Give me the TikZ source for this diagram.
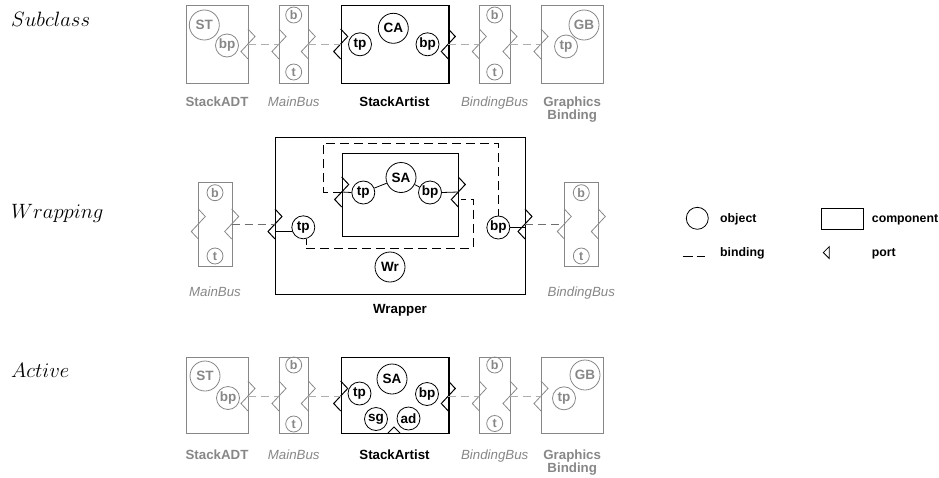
\documentclass[tikz,border=0pt]{standalone}
\usepackage{fontspec}
\setsansfont{Liberation Sans}
\usetikzlibrary{calc}
\definecolor{gr}{RGB}{135,135,135}
\definecolor{lgr}{RGB}{175,175,175}
\definecolor{mgr}{RGB}{110,110,110}
\tikzset{
  zport/.pic={\draw (0,-15) -- (7,-7.5) -- (-7,7.5) -- (0,15); \coordinate (-c) at (0,0);},
}
\begin{document}
\begin{tikzpicture}[x=1pt,y=-1pt,line join=miter,
  gbox/.style={draw=gr, line width=0.8pt, inner sep=0pt, anchor=north west},
  kbox/.style={draw=black, line width=1.3pt, inner sep=0pt, anchor=north west},
  obj/.style={circle, draw, line width=0.8pt, inner sep=0pt, font=\sffamily\bfseries\fontsize{13.5}{13.5}\selectfont},
  bigobj/.style={obj, minimum size=30pt},
  midobj/.style={obj, minimum size=23pt},
  tinyobj/.style={obj, minimum size=16pt, font=\sffamily\bfseries\fontsize{12.5}{12.5}\selectfont},
  gry/.style={draw=gr, text=gr},
  blab/.style={anchor=base, inner sep=0pt, font=\sffamily\bfseries\fontsize{13.3}{14}\selectfont},
  glab/.style={blab, text=gr},
  ilab/.style={anchor=base, inner sep=0pt, text=gr, font=\sffamily\itshape\fontsize{13.3}{14}\selectfont},
  leglab/.style={anchor=base west, inner sep=0pt, font=\sffamily\bfseries\fontsize{12.3}{13}\selectfont},
  rowlab/.style={anchor=base west, inner sep=0pt, font=\fontsize{20}{24}\selectfont},
  lbind/.style={draw=lgr, line width=1pt, dash pattern=on 8pt off 5pt},
  mbind/.style={draw=mgr, line width=0.8pt, dash pattern=on 8pt off 5pt},
  ibind/.style={draw=black, line width=1pt, dash pattern=on 9pt off 5pt},
]
\useasboundingbox (0,0) rectangle (939,477);

% ---------- row labels
\node[rowlab] (rl1) at (11,26.5) {$Subclass$};
\node[rowlab] (rl2) at (11,218.5) {$Wrapping$};
\node[rowlab] (rl3) at (11,377.5) {$Active$};

% ================= ROW 1: Subclass
\node[gbox, minimum width=62pt, minimum height=78pt] (adt1) at (186,5) {};
\node[bigobj, gry] (st1) at (204.3,25) {ST};
\node[midobj, gry] (bpa1) at (227,45.5) {bp};
\pic[gr, line width=0.8pt] (a1r) at (248,44) {zport};

\node[gbox, minimum width=29.3pt, minimum height=78pt] (mb1) at (279,5) {};
\node[tinyobj, gry] (mbb1) at (293.7,15) {b};
\node[tinyobj, gry] (mbt1) at (293.7,72) {t};
\pic[gr, line width=0.8pt] (m1l) at (279,44) {zport};
\pic[gr, line width=0.8pt] (m1r) at (308.3,44) {zport};

\node[kbox, minimum width=107.6pt, minimum height=78pt] (sa1) at (340.7,5) {};
\node[bigobj] (ca1) at (393.3,28.3) {CA};
\node[midobj] (tp1) at (360,44.3) {tp};
\node[midobj] (bp1) at (427.5,44.3) {bp};
\pic[black, line width=1pt] (s1l) at (340.7,44) {zport};
\pic[black, line width=1pt] (s1r) at (448.3,44) {zport};

\node[gbox, minimum width=30.7pt, minimum height=78pt] (bb1) at (479.3,5) {};
\node[tinyobj, gry] (bbb1) at (494.7,15) {b};
\node[tinyobj, gry] (bbt1) at (494.7,72) {t};
\pic[gr, line width=0.8pt] (b1l) at (479.3,44) {zport};
\pic[gr, line width=0.8pt] (b1r) at (510,44) {zport};

\node[gbox, minimum width=62.3pt, minimum height=78pt] (gb1) at (541,5) {};
\node[bigobj, gry] (gbo1) at (584,25) {GB};
\node[midobj, gry] (gtp1) at (566,46.5) {tp};
\pic[gr, line width=0.8pt] (g1l) at (541,44) {zport};

\draw[lbind] (a1r-c) -- (m1l-c);
\draw[lbind] (m1r-c) -- (s1l-c);
\draw[lbind] (s1r-c) -- (b1l-c);
\draw[lbind] (b1r-c) -- (g1l-c);

\node[glab] (l11) at (217,106.5) {StackADT};
\node[ilab] (l12) at (293.7,106.5) {MainBus};
\node[blab] (l13) at (394.5,106.5) {StackArtist};
\node[ilab] (l14) at (494.7,106.5) {BindingBus};
\node[glab] (l15) at (572.2,106.5) {Graphics};
\node[glab] (l16) at (572.2,119.5) {Binding};

% ================= ROW 2: Wrapping
\node[gbox, minimum width=33.4pt, minimum height=83.7pt] (mb2) at (198.3,182.3) {};
\node[tinyobj, gry] (mbb2) at (215,192.7) {b};
\node[tinyobj, gry] (mbt2) at (215,256) {t};
\pic[gr, line width=0.8pt] (m2l) at (198.3,224) {zport};
\pic[gr, line width=0.8pt] (m2r) at (231.7,224) {zport};

\node[kbox, line width=1.1pt, minimum width=250pt, minimum height=157pt] (wrp) at (275,137) {};
\node[kbox, line width=1.1pt, minimum width=116.6pt, minimum height=83.3pt] (sai) at (341.7,152.7) {};
\node[bigobj] (sao) at (401,177.5) {SA};
\node[midobj] (tpi) at (363.3,192.5) {tp};
\node[midobj] (bpi) at (430,192.5) {bp};
\node[bigobj] (wro) at (390,267) {Wr};
\node[midobj] (tpo) at (303.3,227.3) {tp};
\node[midobj] (bpo) at (498.3,227.5) {bp};
\pic[black, line width=1pt] (sil) at (341.7,192) {zport};
\pic[black, line width=1pt] (sir) at (458.3,192) {zport};
\pic[black, line width=1pt] (wl) at (275,224) {zport};
\pic[black, line width=1pt] (wr) at (525,224) {zport};

\node[gbox, minimum width=34pt, minimum height=83.7pt] (bb2) at (564.3,182.3) {};
\node[tinyobj, gry] (bbb2) at (581.3,192.7) {b};
\node[tinyobj, gry] (bbt2) at (581.3,256) {t};
\pic[gr, line width=0.8pt] (b2l) at (564.3,224) {zport};
\pic[gr, line width=0.8pt] (b2r) at (598.3,224) {zport};

\draw[mbind] (m2r-c) -- (wl-c);
\draw[mbind] (wr-c) -- (b2l-c);

\draw[line width=0.8pt] (sil-c) -- (tpi.west);
\draw[line width=0.8pt] (tpi) -- (sao);
\draw[line width=0.8pt] (sao) -- (bpi);
\draw[line width=0.8pt] (bpi.east) -- (sir-c);
\draw[line width=0.8pt] (tpo.200) -- (tpo.200 -| wl-c);
\draw[line width=0.8pt] (bpo.east) -- (bpo.east -| wr-c);
\draw[line width=0.8pt] (tpo.-75) -- (tpo.-75 |- 0,245);
\coordinate (sirb) at (461,199);
\draw[ibind] (tpo.-75 |- 0,248.3) -| (473.3,199) -- (sirb);
\draw[ibind] (sil-c) -- (323.3,192) |- (498.3,143.3) -- (bpo.north);

\node[ilab] (l21) at (215,296) {MainBus};
\node[blab] (l22) at (400,313) {Wrapper};
\node[ilab] (l23) at (581.3,296) {BindingBus};

% ================= ROW 3: Active
\node[gbox, minimum width=62pt, minimum height=76pt] (adt3) at (186,357) {};
\node[bigobj, gry] (st3) at (205,376) {ST};
\node[midobj, gry] (bpa3) at (228,398) {bp};
\pic[gr, line width=0.8pt] (a3r) at (248,396) {zport};

\node[gbox, minimum width=29.3pt, minimum height=76pt] (mb3) at (279,357) {};
\node[tinyobj, gry] (mbb3) at (293.7,365) {b};
\node[tinyobj, gry] (mbt3) at (293.7,424) {t};
\pic[gr, line width=0.8pt] (m3l) at (279,396) {zport};
\pic[gr, line width=0.8pt] (m3r) at (308.3,396) {zport};

\node[kbox, minimum width=107.6pt, minimum height=76pt] (sa3) at (340.7,357) {};
\node[bigobj] (sao3) at (392,379) {SA};
\node[midobj] (tp3) at (359.5,393.5) {tp};
\node[midobj] (bp3) at (427,394) {bp};
\node[midobj] (sg3) at (376,419) {sg};
\node[midobj] (ad3) at (408.5,418.5) {ad};
\pic[black, line width=1pt] (s3l) at (340.7,396) {zport};
\pic[black, line width=1pt] (s3r) at (448.3,396) {zport};
\draw[line width=1pt] (388,433) -- (394,427) -- (400,433);

\node[gbox, minimum width=30.7pt, minimum height=76pt] (bb3) at (479.3,357) {};
\node[tinyobj, gry] (bbb3) at (494.7,365) {b};
\node[tinyobj, gry] (bbt3) at (494.7,423.5) {t};
\pic[gr, line width=0.8pt] (b3l) at (479.3,396) {zport};
\pic[gr, line width=0.8pt] (b3r) at (510,396) {zport};

\node[gbox, minimum width=62.3pt, minimum height=76pt] (gb3) at (541,357) {};
\node[bigobj, gry] (gbo3) at (585,375) {GB};
\node[midobj, gry] (gtp3) at (564,398.3) {tp};
\pic[gr, line width=0.8pt] (g3l) at (541,396) {zport};

\draw[lbind] (a3r-c) -- (m3l-c);
\draw[lbind] (m3r-c) -- (s3l-c);
\draw[lbind] (s3r-c) -- (b3l-c);
\draw[lbind] (b3r-c) -- (g3l-c);

\node[glab] (l31) at (217,459.5) {StackADT};
\node[ilab] (l32) at (293.7,459.5) {MainBus};
\node[blab] (l33) at (394.5,459.5) {StackArtist};
\node[ilab] (l34) at (494.7,459.5) {BindingBus};
\node[glab] (l35) at (572.2,459.5) {Graphics};
\node[glab] (l36) at (572.2,472.5) {Binding};

% ================= Legend
\node[obj, minimum size=22pt] (lgobj) at (697.3,218.3) {};
\node[leglab] (lgt1) at (720,222.5) {object};
\node[draw, line width=0.8pt, inner sep=0pt, anchor=north west, minimum width=42.3pt, minimum height=21pt] (lgcomp) at (821,208.3) {};
\node[leglab] (lgt2) at (871.7,222.5) {component};
\coordinate (lgb1) at (682.7,256.7);
\coordinate (lgb2) at (705,256.7);
\draw[line width=0.9pt, dash pattern=on 10.5pt off 3.5pt] (lgb1) -- (lgb2);
\node[leglab] (lgt3) at (720,256) {binding};
\draw[line width=0.8pt] (829.3,246.5) -- (823.3,252.5) -- (829.3,258.5) -- cycle;
\node[leglab] (lgt4) at (871.7,256) {port};
\end{tikzpicture}
\end{document}
